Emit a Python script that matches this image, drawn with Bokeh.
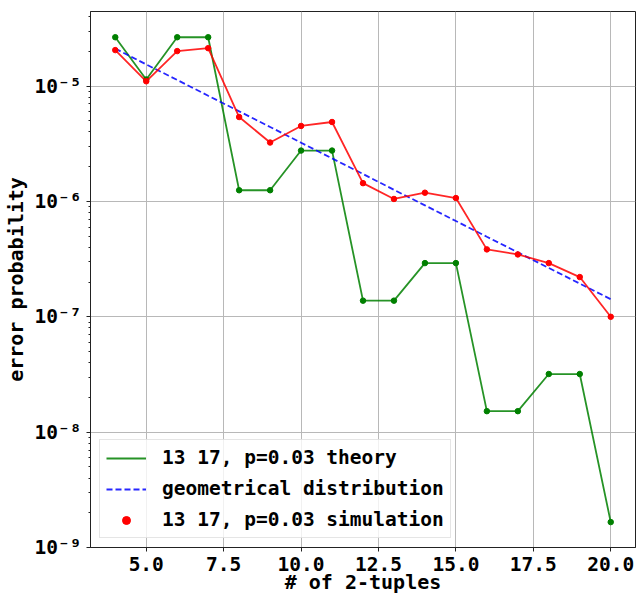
from bokeh.plotting import figure
from bokeh.models import (FixedTicker, CustomJSTickFormatter, Legend, LegendItem,
                          ColumnDataSource, Range1d)
from bokeh.embed import file_html
from bokeh.resources import INLINE

# ---- data ----
tuples = [4, 5, 6, 7, 8, 9, 10, 11, 12, 13, 14, 15, 16, 17, 18, 19, 20]
theory = [2.65e-5, 1.14e-5, 2.65e-5, 2.65e-5, 1.25e-6, 1.25e-6, 2.76e-6, 2.76e-6,
          1.38e-7, 1.38e-7, 2.92e-7, 2.92e-7, 1.52e-8, 1.52e-8, 3.19e-8, 3.19e-8,
          1.66e-9]
simulation = [2.05e-5, 1.10e-5, 2.01e-5, 2.13e-5, 5.39e-6, 3.24e-6, 4.51e-6, 4.88e-6,
              1.44e-6, 1.05e-6, 1.19e-6, 1.07e-6, 3.84e-7, 3.47e-7, 2.92e-7, 2.21e-7,
              1.00e-7]
geometric = [2.11e-5, 1.54e-5, 1.13e-5, 8.25e-6, 6.04e-6, 4.42e-6, 3.23e-6, 2.36e-6,
             1.73e-6, 1.26e-6, 9.25e-7, 6.76e-7, 4.94e-7, 3.62e-7, 2.65e-7, 1.94e-7,
             1.42e-7]
x_ticks = [5.0, 7.5, 10.0, 12.5, 15.0, 17.5, 20.0]
y_ticks = [1e-9, 1e-8, 1e-7, 1e-6, 1e-5]
y_minor = [k * 10.0 ** e for e in range(-9, -4) for k in range(2, 10)]

FONT = "DejaVu Sans Mono"

src = ColumnDataSource(dict(x=tuples, theory=theory, sim=simulation, geo=geometric))

p = figure(width=636, height=596, y_axis_type="log", output_backend="svg",
           toolbar_location=None, x_range=Range1d(3.2, 20.8),
           y_range=Range1d(1e-9, 4.43e-5),
           min_border_left=86, min_border_right=1, min_border_top=11,
           min_border_bottom=48)
p.background_fill_color = "white"
p.border_fill_color = "white"
p.outline_line_color = "#222222"
p.outline_line_width = 1

r_theory = p.line("x", "theory", source=src, line_color="green", line_width=1.8, line_alpha=0.85)
p.scatter("x", "theory", source=src, size=5.5, fill_color="green", line_color="green")
r_geo = p.line("x", "geo", source=src, line_color="blue", line_width=1.8,
               line_dash="6 3", line_alpha=0.85)
p.line("x", "sim", source=src, line_color="red", line_width=1.8, line_alpha=0.85)
r_sim = p.scatter("x", "sim", source=src, size=5.5, fill_color="red", line_color="red")

# axes
p.xaxis.ticker = FixedTicker(ticks=x_ticks)
p.xaxis.formatter = CustomJSTickFormatter(code="return tick.toFixed(1);")
p.yaxis.ticker = FixedTicker(ticks=y_ticks, minor_ticks=y_minor)
p.yaxis.formatter = CustomJSTickFormatter(code="""
const sup = {'-':'\u207b','0':'\u2070','1':'\u00b9','2':'\u00b2','3':'\u00b3','4':'\u2074',
             '5':'\u2075','6':'\u2076','7':'\u2077','8':'\u2078','9':'\u2079'};
const e = String(Math.round(Math.log10(tick)));
let s = '';
for (const c of e) s += sup[c];
return '10' + s;
""")

for ax in (p.xaxis[0], p.yaxis[0]):
    ax.major_label_text_font = FONT
    ax.major_label_text_font_style = "bold"
    ax.major_label_text_font_size = "19.5px"
    ax.major_label_text_color = "black"
    ax.axis_label_text_font = FONT
    ax.axis_label_text_font_style = "bold"
    ax.axis_label_text_font_size = "20px"
    ax.axis_label_text_color = "black"
    ax.axis_line_color = "#222222"
    ax.major_tick_line_color = "#222222"
    ax.major_tick_out = 4
    ax.major_tick_in = 0
    ax.minor_tick_out = 2
    ax.minor_tick_in = 0
    ax.major_label_standoff = 5

p.xaxis.minor_tick_line_color = None
p.xaxis.axis_label = "# of 2-tuples"
p.xaxis.axis_label_standoff = -4
p.yaxis.axis_label = "error probability"
p.yaxis.axis_label_standoff = 4
p.yaxis.minor_tick_line_color = "#222222"

p.xgrid.grid_line_color = "#b8b8b8"
p.ygrid.grid_line_color = "#b8b8b8"
p.xgrid.grid_line_width = 1
p.ygrid.grid_line_width = 1

legend = Legend(items=[
    LegendItem(label="13 17, p=0.03 theory", renderers=[r_theory]),
    LegendItem(label="geometrical distribution", renderers=[r_geo]),
    LegendItem(label="13 17, p=0.03 simulation", renderers=[r_sim]),
], location="bottom_left")
legend.label_text_font = FONT
legend.label_text_font_style = "bold"
legend.label_text_font_size = "19.5px"
legend.label_text_color = "black"
legend.glyph_width = 40
legend.glyph_height = 20
legend.label_height = 20
legend.label_standoff = 16
legend.spacing = 8
legend.padding = 6
legend.margin = 9
legend.border_line_color = "#cccccc"
legend.border_line_width = 1
legend.background_fill_color = "white"
legend.background_fill_alpha = 0.8
p.add_layout(legend)

open("out.html", "w").write(file_html(p, INLINE))
